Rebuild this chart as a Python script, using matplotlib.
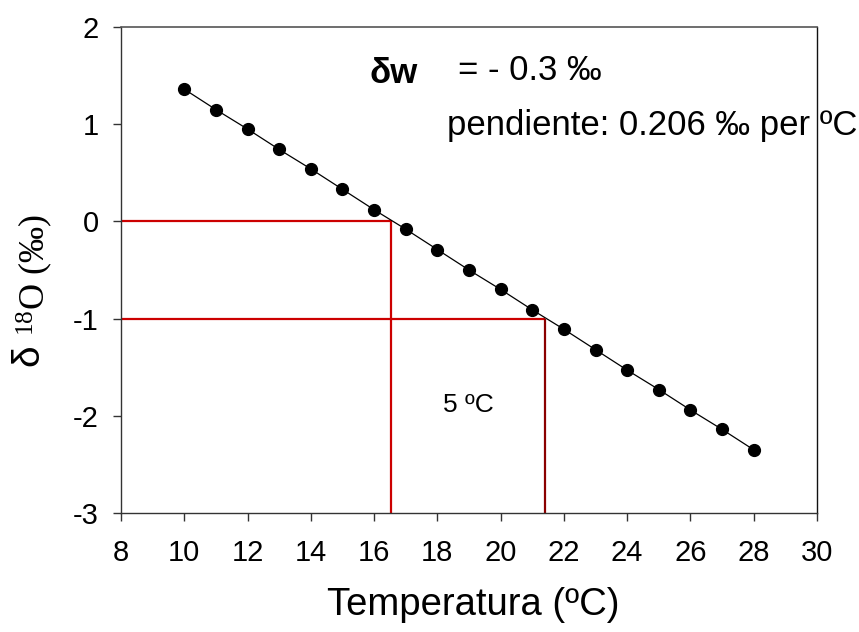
import matplotlib
matplotlib.use("Agg")
import matplotlib.pyplot as plt

# Data: delta 18O of calcite vs temperature
temperature = [10, 11, 12, 13, 14, 15, 16, 17, 18, 19, 20, 21, 22, 23, 24, 25, 26, 27, 28]
delta18o = [1.36, 1.15, 0.95, 0.74, 0.54, 0.33, 0.12, -0.08, -0.29, -0.50,
            -0.70, -0.91, -1.11, -1.32, -1.53, -1.73, -1.94, -2.14, -2.35]

# Reference levels and the temperatures where they cross the line
ref_levels = [0, -1]
ref_temps = [16.55, 21.4]
ref_vcolors = ["#cc0000", "#8b0000"]

xticks = [8, 10, 12, 14, 16, 18, 20, 22, 24, 26, 28, 30]
yticks = [-3, -2, -1, 0, 1, 2]

plt.rcParams["font.family"] = ["Liberation Sans", "DejaVu Sans"]
plt.rcParams["mathtext.fontset"] = "custom"
plt.rcParams["mathtext.rm"] = "Liberation Serif"
plt.rcParams["mathtext.it"] = "Liberation Serif:italic"
plt.rcParams["mathtext.sf"] = "Liberation Sans"

W, H = 859, 632
fig = plt.figure(figsize=(W / 100, H / 100), dpi=100)
ax = fig.add_axes([121 / W, 1 - 513 / H, 696 / W, 486 / H])

xmin, xmax = 8, 30
ymin, ymax = -3, 2

# Red guide lines
for lvl, t, vc in zip(ref_levels, ref_temps, ref_vcolors):
    ax.plot([xmin, t], [lvl, lvl], color="#cc0000", lw=1.6, zorder=2, solid_capstyle="butt")
    ax.plot([t, t], [ymin, lvl], color=vc, lw=1.6, zorder=2, solid_capstyle="butt")

ax.plot(temperature, delta18o, color="black", lw=0.9, marker="o",
        markersize=8.5, markerfacecolor="black", markeredgecolor="black", zorder=3)

ax.set_xlim(xmin, xmax)
ax.set_ylim(ymin, ymax)
ax.set_xticks(xticks)
ax.set_yticks(yticks)
ax.set_xticklabels([str(v) for v in xticks], fontsize=21)
ax.set_yticklabels([str(v) for v in yticks], fontsize=21)
ax.tick_params(axis="x", direction="out", length=6, width=1, pad=13, color="#333333")
ax.tick_params(axis="y", direction="out", length=6, width=1, pad=10, color="#333333")

for side in ["left", "bottom"]:
    ax.spines[side].set_color("#333333")
    ax.spines[side].set_linewidth(1.0)
ax.spines["top"].set_color("#555555")
ax.spines["top"].set_linewidth(1.2)
ax.spines["right"].set_color("#111111")
ax.spines["right"].set_linewidth(1.0)

# Annotations
ax.text(15.87, 1.424, "δw", fontsize=25, fontweight="bold", va="baseline", ha="left")
ax.text(18.65, 1.455, "= - 0.3 ‰", fontsize=25, va="baseline", ha="left")
ax.text(18.30, 0.889, "pendiente: 0.206 ‰ per ºC", fontsize=25, va="baseline",
        ha="left", clip_on=False)
ax.text(18.18, -1.96, "5 ºC", fontsize=19, va="baseline", ha="left")

# Axis titles
fig.text(473 / W, 1 - 605 / H, "Temperatura (ºC)", fontsize=27.5, ha="center", va="center")
fig.text(28 / W, 1 - 355 / H, "δ", fontsize=28, rotation=90, ha="center", va="center")
fig.text(35 / W, 1 - 275 / H, r"$^{\mathrm{18}}$O (‰)", fontsize=26, rotation=90,
         ha="center", va="center", family=["Liberation Serif", "DejaVu Serif"])

fig.savefig("out.png", dpi=100, facecolor="white")
